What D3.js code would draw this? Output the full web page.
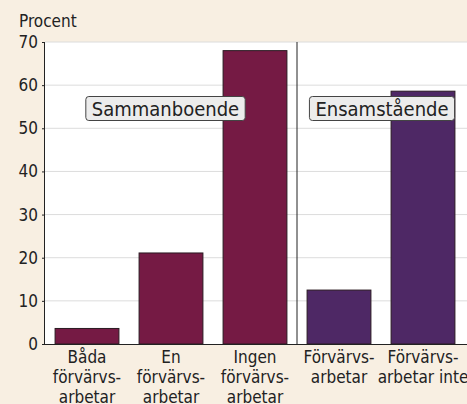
<!DOCTYPE html>
<html>
<head>
<meta charset="utf-8">
<script src="https://cdn.jsdelivr.net/npm/d3@7"></script>
<style>
  body { margin: 0; background: #f8efe2; }
  svg { display: block; }
</style>
</head>
<body>
<svg id="chart" width="467" height="404"></svg>
<script>

// Data
const categories = [
  'Båda\nförvärvs-\narbetar',
  'En\nförvärvs-\narbetar',
  'Ingen\nförvärvs-\narbetar',
  'Förvärvs-\narbetar',
  'Förvärvs-\narbetar inte'
];
const values = [3.6, 21.1, 68, 12.5, 58.6];
const groupOf = ['Sammanboende', 'Sammanboende', 'Sammanboende', 'Ensamstående', 'Ensamstående'];
const groups = ['Sammanboende', 'Ensamstående'];
const yTicks = [0, 10, 20, 30, 40, 50, 60, 70];

// Display settings
const fontFamily = '"Liberation Sans Narrow", "DejaVu Sans Condensed", "Open Sans", sans-serif';
const groupColor = { 'Sammanboende': '#751a44', 'Ensamstående': '#4e2865' };
const margin = { top: 42, right: 0, bottom: 60, left: 45 };

const svg = d3.select('#chart');
const width = +svg.attr('width');
const height = +svg.attr('height');

// Scales
const x = d3.scaleBand()
  .domain(categories)
  .range([margin.left, 465])
  .paddingInner(0.24)
  .paddingOuter(0.12);

const y = d3.scaleLinear()
  .domain([0, 70])
  .range([height - margin.bottom, margin.top]);

// White plot area
svg.append('rect')
  .attr('x', margin.left)
  .attr('y', margin.top)
  .attr('width', width - margin.left)
  .attr('height', y(0) - margin.top)
  .attr('fill', '#ffffff');

// Grid lines
svg.append('g')
  .selectAll('line')
  .data(yTicks.filter(d => d > 0))
  .join('line')
  .attr('x1', margin.left)
  .attr('x2', width)
  .attr('y1', d => y(d))
  .attr('y2', d => y(d))
  .attr('stroke', '#dcdcdc')
  .attr('stroke-width', 1);

// Bars
svg.append('g')
  .selectAll('rect')
  .data(categories)
  .join('rect')
  .attr('x', d => x(d))
  .attr('y', (d, i) => y(values[i]))
  .attr('width', x.bandwidth())
  .attr('height', (d, i) => y(0) - y(values[i]))
  .attr('fill', (d, i) => groupColor[groupOf[i]])
  .attr('stroke', '#2a1a22')
  .attr('stroke-width', 1);

// Divider between groups
const divX = (x(categories[2]) + x.bandwidth() + x(categories[3])) / 2;
svg.append('line')
  .attr('x1', divX).attr('x2', divX)
  .attr('y1', margin.top).attr('y2', y(0))
  .attr('stroke', '#222')
  .attr('stroke-width', 1);

// Y axis
const yAxis = svg.append('g')
  .attr('transform', `translate(${margin.left},0)`)
  .call(d3.axisLeft(y).tickValues(yTicks).tickSize(3).tickPadding(4));
yAxis.select('.domain').attr('stroke', '#222').attr('d', `M-0.5,${margin.top}V${y(0)}`);
yAxis.selectAll('.tick line').attr('stroke', '#222');
yAxis.selectAll('.tick text')
  .style('font-family', fontFamily)
  .style('font-size', '17px')
  .attr('fill', '#222');

// X axis line
svg.append('line')
  .attr('x1', margin.left).attr('x2', width)
  .attr('y1', y(0) + 0.5).attr('y2', y(0) + 0.5)
  .attr('stroke', '#222');

// Category labels (third line runs off the bottom edge, as in the original)
const catLabel = svg.append('g')
  .selectAll('text')
  .data(categories)
  .join('text')
  .attr('x', d => x(d) + x.bandwidth() / 2)
  .attr('y', y(0) + 19)
  .attr('text-anchor', 'middle')
  .style('font-family', fontFamily)
  .style('font-size', '17px')
  .attr('fill', '#222');
catLabel.selectAll('tspan')
  .data(d => d.split('\n'))
  .join('tspan')
  .attr('x', function() { return this.parentNode.getAttribute('x'); })
  .attr('dy', (d, i) => i === 0 ? 0 : 20)
  .text(d => d);

// "Procent" axis title
svg.append('text')
  .attr('x', 19)
  .attr('y', 27)
  .style('font-family', fontFamily)
  .style('font-size', '17px')
  .attr('fill', '#222')
  .text('Procent');

// Group labels in boxes
const groupLabelPos = { 'Sammanboende': 165.5, 'Ensamstående': 382 };
groups.forEach(g => {
  const lab = svg.append('g');
  const t = lab.append('text')
    .attr('x', groupLabelPos[g])
    .attr('y', 115.5)
    .attr('text-anchor', 'middle')
    .style('font-family', fontFamily)
    .style('font-size', '20px')
    .attr('fill', '#222')
    .text(g);
  const bb = t.node().getBBox();
  lab.insert('rect', 'text')
    .attr('x', bb.x - 6)
    .attr('y', 96.5)
    .attr('width', bb.width + 12)
    .attr('height', 24)
    .attr('rx', 3)
    .attr('fill', '#ececec')
    .attr('stroke', '#444')
    .attr('stroke-width', 1);
});

</script>
</body>
</html>
